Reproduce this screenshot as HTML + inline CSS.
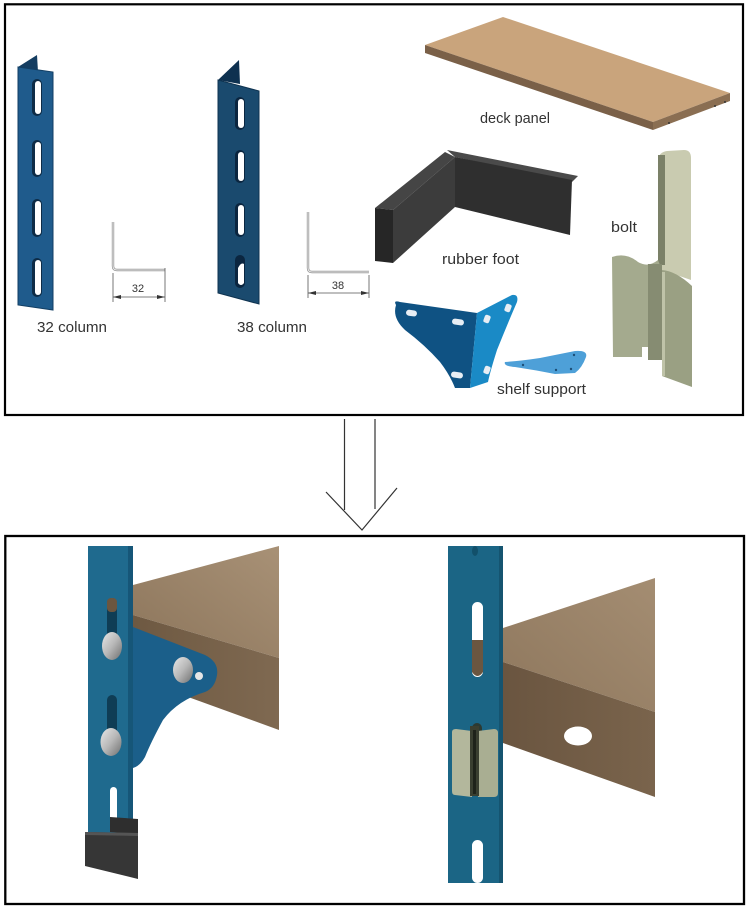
<!DOCTYPE html>
<html><head><meta charset="utf-8"><style>
html,body{margin:0;padding:0;background:#fff;}
svg{display:block;}
text{font-family:"Liberation Sans",sans-serif;fill:#333;}
</style></head><body>
<svg width="750" height="916" viewBox="0 0 750 916" xmlns="http://www.w3.org/2000/svg">
<defs>
<linearGradient id="silver" x1="0" y1="0" x2="1" y2="1">
<stop offset="0" stop-color="#e8e8e8"/><stop offset="0.5" stop-color="#b8b8b8"/><stop offset="1" stop-color="#6e6e6e"/>
</linearGradient>
<linearGradient id="deckTopL" x1="1" y1="0" x2="0" y2="1">
<stop offset="0" stop-color="#a89176"/><stop offset="1" stop-color="#8c755b"/>
</linearGradient>
<linearGradient id="deckFrontL" x1="0" y1="0" x2="1" y2="0">
<stop offset="0" stop-color="#6e5942"/><stop offset="1" stop-color="#7f6951"/>
</linearGradient>
<linearGradient id="deckTopR" x1="1" y1="0" x2="0" y2="1">
<stop offset="0" stop-color="#a48d72"/><stop offset="1" stop-color="#8e775d"/>
</linearGradient>
<linearGradient id="deckFrontR" x1="0" y1="0" x2="1" y2="0">
<stop offset="0" stop-color="#6a5540"/><stop offset="1" stop-color="#7a644c"/>
</linearGradient>
</defs>

<!-- Top box -->
<rect x="5" y="4.3" width="738" height="410.7" fill="#fff" stroke="#000" stroke-width="2.2"/>

<!-- 32 column -->
<polygon points="18,67 37,55 38,72" fill="#143d61"/>
<polygon points="18,67 53,72 53,310 18,305" fill="#1f5b8c" stroke="#123e63" stroke-width="1"/>
<g>
<rect x="32" y="79" width="10" height="37" rx="5" fill="#0e2c47"/><rect x="35" y="81" width="6" height="33" rx="3" fill="#fff"/>
<rect x="32" y="140" width="10" height="37" rx="5" fill="#0e2c47"/><rect x="35" y="142" width="6" height="33" rx="3" fill="#fff"/>
<rect x="32" y="199" width="10" height="38" rx="5" fill="#0e2c47"/><rect x="35" y="201" width="6" height="34" rx="3" fill="#fff"/>
<rect x="32" y="258" width="10" height="39" rx="5" fill="#0e2c47"/><rect x="35" y="260" width="6" height="35" rx="3" fill="#fff"/>
</g>

<!-- 32 profile -->
<path d="M113,222 L113,266 Q113,270 117,270 L165,270" fill="none" stroke="#9a9a9a" stroke-width="2.4"/>
<path d="M113,222 L113,266 Q113,270 117,270 L165,270" fill="none" stroke="#f4f4f4" stroke-width="0.8"/>
<g stroke="#555" stroke-width="0.8" fill="none">
<line x1="113" y1="273" x2="113" y2="302"/><line x1="165" y1="268" x2="165" y2="302"/>
<line x1="113" y1="297" x2="165" y2="297"/>
</g>
<polygon points="113,297 121,295 121,299" fill="#333"/><polygon points="165,297 157,295 157,299" fill="#333"/>
<text x="138" y="292" font-size="11" text-anchor="middle">32</text>
<text x="37" y="332" font-size="15" textLength="70" lengthAdjust="spacingAndGlyphs">32 column</text>

<!-- 38 column -->
<polygon points="218,80 239,60 240,84" fill="#0e3150"/>
<polygon points="218,80 259,91 259,304 218,293" fill="#1a4a6e" stroke="#0f3350" stroke-width="1"/>
<g>
<rect x="235" y="97" width="10" height="33" rx="5" fill="#0b2640"/><rect x="238" y="99" width="6" height="29" rx="3" fill="#fff"/>
<rect x="235" y="150" width="10" height="33" rx="5" fill="#0b2640"/><rect x="238" y="152" width="6" height="29" rx="3" fill="#fff"/>
<rect x="235" y="203" width="10" height="34" rx="5" fill="#0b2640"/><rect x="238" y="205" width="6" height="30" rx="3" fill="#fff"/>
<rect x="235" y="255" width="10" height="33" rx="5" fill="#0b2640"/><path d="M238,268 Q241,262 244,264 L244,283 Q241,287 238,283 Z" fill="#fff"/>
</g>

<!-- 38 profile -->
<path d="M308,212 L308,268 Q308,272 312,272 L369,272" fill="none" stroke="#9a9a9a" stroke-width="2.4"/>
<path d="M308,212 L308,268 Q308,272 312,272 L369,272" fill="none" stroke="#f4f4f4" stroke-width="0.8"/>
<g stroke="#555" stroke-width="0.8" fill="none">
<line x1="308" y1="275" x2="308" y2="298"/><line x1="369" y1="275" x2="369" y2="298"/>
<line x1="308" y1="293" x2="369" y2="293"/>
</g>
<polygon points="308,293 316,291 316,295" fill="#333"/><polygon points="369,293 361,291 361,295" fill="#333"/>
<text x="338" y="289" font-size="11" text-anchor="middle">38</text>
<text x="237" y="332" font-size="15" textLength="70" lengthAdjust="spacingAndGlyphs">38 column</text>

<!-- deck panel -->
<polygon points="425,45 503,17 730,93 653,122" fill="#c9a47c"/>
<polygon points="425,45 653,122 653,130 425,53" fill="#7a6048"/>
<polygon points="653,122 730,93 730,101 653,130" fill="#8a6e52"/>
<circle cx="669" cy="123" r="1" fill="#333"/><circle cx="715" cy="106" r="1" fill="#333"/><circle cx="725" cy="102" r="1" fill="#333"/>
<text x="480" y="123" font-size="15" textLength="70" lengthAdjust="spacingAndGlyphs">deck panel</text>

<!-- rubber foot -->
<polygon points="447,150 578,176 572,182 455,157" fill="#4a4a4a"/>
<polygon points="455,157 572,180 570,235 455,207" fill="#2f2f2f"/>
<polygon points="375,208 445,152 455,157 393,210" fill="#454545"/>
<polygon points="393,210 455,157 455,207 393,263" fill="#3c3c3c"/>
<polygon points="375,208 393,210 393,263 375,261" fill="#262626"/>
<text x="442" y="264" font-size="15" textLength="77" lengthAdjust="spacingAndGlyphs">rubber foot</text>

<!-- shelf support -->
<path d="M396,305 Q393,300 400,302 L477,313 L470,388 L455,388 Q450,375 440,362 Q425,345 405,330 Q392,318 396,305 Z" fill="#0f5283"/>
<path d="M477,313 L512,295 Q519,294 517,302 Q507,325 497,350 Q490,372 488,382 L470,388 Z" fill="#1a8ac6"/>
<g fill="#e8eef4">
<rect x="406" y="310" width="11" height="6" rx="3" transform="rotate(8 411 313)"/>
<rect x="452" y="319" width="12" height="6" rx="3" transform="rotate(8 458 322)"/>
<rect x="451" y="372" width="12" height="6" rx="3" transform="rotate(8 457 375)"/>
<rect x="484" y="315" width="6" height="8" rx="2" transform="rotate(20 487 319)"/>
<rect x="505" y="304" width="6" height="8" rx="2" transform="rotate(20 508 308)"/>
<rect x="484" y="366" width="6" height="8" rx="2" transform="rotate(20 487 370)"/>
</g>
<path d="M505,362 Q520,361 540,358 L575,351 Q588,350 586,357 Q582,368 575,373 L555,374 Q535,370 515,367 Q503,366 505,362 Z" fill="#4ea0d8"/>
<g fill="#1d4f78"><circle cx="523" cy="365" r="1.2"/><circle cx="574" cy="355" r="1.2"/><circle cx="571" cy="369" r="1.2"/><circle cx="556" cy="370" r="1.2"/></g>
<text x="497" y="394" font-size="15" textLength="89" lengthAdjust="spacingAndGlyphs">shelf support</text>

<!-- bolt -->
<path d="M658,264 L658,160 Q659,152 667,151 L684,150 Q691,150 691,158 L691,280 L662,270 Z" fill="#c9cbb0"/>
<rect x="658" y="155" width="7" height="110" fill="#7b8168"/>
<path d="M612,257 Q626,252 638,262 Q648,268 658,260 L662,270 L662,360 L650,360 L650,347 L642,347 L642,357 L613,357 Z" fill="#a4aa8e"/>
<rect x="648" y="264" width="14" height="96" fill="#868c72"/>
<path d="M662,270 Q676,271 692,286 L692,387 L662,376 Z" fill="#9aa083"/>
<rect x="662" y="272" width="3" height="104" fill="#bfc3a8"/>
<text x="611" y="232" font-size="15" textLength="26" lengthAdjust="spacingAndGlyphs">bolt</text>

<!-- arrow -->
<g stroke="#333" stroke-width="1.2" fill="none">
<line x1="344.5" y1="419" x2="344.5" y2="510"/>
<line x1="375" y1="419" x2="375" y2="509"/>
<polyline points="326,492 362,530 397,488"/>
</g>

<!-- Bottom box -->
<rect x="5.3" y="536" width="738.7" height="368" fill="#fff" stroke="#000" stroke-width="2.3"/>

<!-- Left panel: deck -->
<polygon points="133,585 279,546 279,658 133,615" fill="url(#deckTopL)"/>
<polygon points="133,615 279,658 279,730 133,677" fill="url(#deckFrontL)"/>
<!-- column -->
<rect x="88" y="546" width="45" height="288" fill="#1f6a8e"/>
<rect x="128" y="546" width="5" height="288" fill="#165678"/>
<!-- slots -->
<rect x="107" y="598" width="10" height="46" rx="5" fill="#0f3d55"/>
<rect x="107" y="598" width="10" height="14" rx="4" fill="#6b5640"/>
<rect x="107" y="695" width="10" height="44" rx="5" fill="#0f3d55"/>
<rect x="110" y="787" width="7" height="36" rx="3.5" fill="#fff"/>
<!-- bracket -->
<path d="M133,627 L205,655 Q219,662 217,675 Q215,688 205,692 Q178,700 163,720 Q151,742 145,757 Q140,766 133,768 Z" fill="#1b5f8a"/>
<!-- bolt heads -->
<ellipse cx="112" cy="646" rx="10" ry="14" fill="url(#silver)"/>
<ellipse cx="111" cy="742" rx="10.5" ry="14" fill="url(#silver)"/>
<ellipse cx="199" cy="676" rx="4" ry="4" fill="#e6e6e6"/>
<ellipse cx="183" cy="670" rx="10" ry="13" fill="url(#silver)"/>
<!-- rubber foot -->
<polygon points="110,817 138,819 138,834 110,832" fill="#2e2e2e"/>
<polygon points="85,832 138,833 138,879 85,866" fill="#363636"/>
<polygon points="85,832 138,833 138,836 85,835" fill="#555"/>

<!-- Right panel: deck -->
<polygon points="503,628 655,578 655,712 503,662" fill="url(#deckTopR)"/>
<polygon points="503,662 655,712 655,797 503,743" fill="url(#deckFrontR)"/>
<ellipse cx="578" cy="736" rx="14" ry="9.5" fill="#fff"/>
<!-- column -->
<rect x="448" y="546" width="55" height="337" fill="#1b6585"/>
<rect x="499" y="546" width="4" height="337" fill="#155470"/>
<ellipse cx="475" cy="551" rx="3" ry="5" fill="#12506a"/>
<rect x="472" y="602" width="11" height="75" rx="5.5" fill="#fff"/>
<path d="M472,640 L483,640 L483,672 Q477.5,680 472,672 Z" fill="#6b5640"/>
<rect x="472" y="723" width="10" height="20" rx="5" fill="#2c3a32"/>
<!-- bolt in column -->
<path d="M452,732 Q452,729 456,729 L472,731 L472,797 L455,795 Q452,795 452,791 Z" fill="#b3b79c"/>
<path d="M478,731 L494,729 Q498,729 498,733 L498,793 Q498,797 494,797 L478,797 Z" fill="#a9ae92"/>
<rect x="470" y="726" width="9" height="70" fill="#3a3f30"/>
<rect x="473" y="730" width="3" height="64" fill="#1f231a"/>
<rect x="472" y="840" width="11" height="43" rx="5.5" fill="#fff"/>
</svg>
</body></html>
